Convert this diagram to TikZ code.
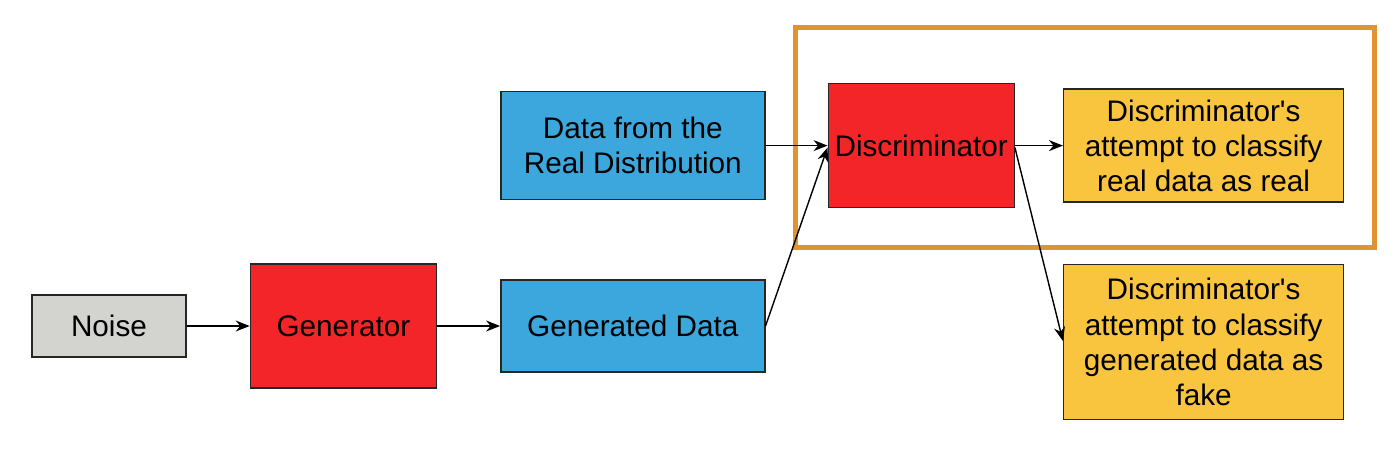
\documentclass[tikz,border=0pt]{standalone}
\usepackage{fontspec}
\setmainfont{Liberation Sans}
\usetikzlibrary{arrows.meta,positioning,calc}
\definecolor{ganred}{HTML}{F42529}
\definecolor{ganblue}{HTML}{3BA7DC}
\definecolor{gangray}{HTML}{D3D3CF}
\definecolor{ganyellow}{HTML}{F9C53F}
\definecolor{ganorange}{HTML}{E0932E}
\tikzstyle{block} = [rectangle, draw=black!85, line width=0.8pt, align=center, inner sep=0pt, font=\fontsize{16.9}{20}\selectfont]
\tikzstyle{arrow} = [line width=0.8pt, -{Stealth[length=0.28cm, width=0.22cm]}]

\begin{document}
\begin{tikzpicture}
                \useasboundingbox (0,0) rectangle (28,9.02);
                \node[block, fill=gangray, minimum width=3.08cm, minimum height=1.24cm] (noise) at (2.18,2.5) {Noise};
                \node[block, fill=ganred, minimum width=3.72cm, minimum height=2.48cm, right=1.26cm of noise] (gen) {Generator};
                \node[block, fill=ganblue, minimum width=5.28cm, minimum height=1.84cm, right=1.26cm of gen] (gendata) {Generated Data};
                \node[block, fill=ganblue, minimum width=5.28cm, minimum height=2.16cm, above=1.58cm of gendata] (realdata) {Data from the\\Real Distribution};
                \node[block, fill=ganred, minimum width=3.72cm, minimum height=2.48cm, right=1.24cm of realdata] (disc) {Discriminator};
                \node[block, fill=ganyellow, minimum width=5.6cm, minimum height=2.26cm, right=0.96cm of disc] (outreal) {Discriminator\textquotesingle s\\attempt to classify\\real data as real};
                \node[block, fill=ganyellow, minimum width=5.6cm, minimum height=3.1cm, below=1.22cm of outreal] (outfake) {Discriminator\textquotesingle s\\attempt to classify\\generated data as\\fake};
                
                % frame round the discriminator step
                \draw[ganorange, line width=2.8pt] ($(disc.north west)+(-0.64,1.1)$) rectangle ($(outreal.south east)+(0.6,-0.9)$);
                
                \draw[arrow] (noise) -- (gen);
                \draw[arrow] (gen) -- (gendata);
                \draw[arrow] (realdata) -- (disc);
                \draw[arrow] (gendata.east) -- ($(disc.west)+(0,-0.04)$);
                \draw[arrow] (disc) -- (outreal);
                \draw[arrow] ($(disc.east)+(0,-0.04)$) -- ($(outfake.west)+(0,0.02)$);
            \end{tikzpicture}
\end{document}
